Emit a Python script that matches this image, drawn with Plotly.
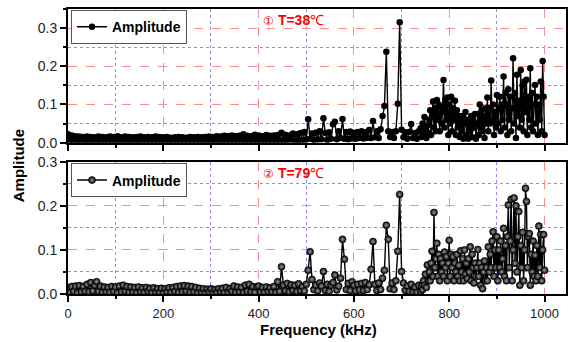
import plotly.graph_objects as go

# Frequency sampling grid (kHz): 4 kHz steps up to 736 kHz, 2 kHz steps from 740 to 1000 kHz
freq = list(range(0, 740, 4)) + list(range(740, 1001, 2))

# Amplitude spectrum at T=38 C
amp_38 = [
    # 0 - 736 kHz (4 kHz steps)
    0.022, 0.006, 0.019, 0.004, 0.017, 0.007, 0.016, 0.003, 0.015, 0.006,
    0.016, 0.004, 0.015, 0.007, 0.014, 0.003, 0.016, 0.005, 0.015, 0.006,
    0.014, 0.004, 0.016, 0.006, 0.015, 0.003, 0.017, 0.005, 0.014, 0.006,
    0.016, 0.004, 0.015, 0.006, 0.014, 0.003, 0.015, 0.005, 0.016, 0.004,
    0.014, 0.006, 0.015, 0.003, 0.014, 0.005, 0.016, 0.004, 0.015, 0.006,
    0.014, 0.003, 0.015, 0.005, 0.013, 0.004, 0.014, 0.006, 0.015, 0.003,
    0.014, 0.005, 0.013, 0.004, 0.015, 0.006, 0.014, 0.003, 0.015, 0.005,
    0.014, 0.004, 0.015, 0.006, 0.016, 0.003, 0.015, 0.005, 0.017, 0.004,
    0.016, 0.006, 0.018, 0.004, 0.017, 0.005, 0.019, 0.003, 0.017, 0.006,
    0.018, 0.004, 0.022, 0.006, 0.018, 0.005, 0.017, 0.004, 0.021, 0.006,
    0.019, 0.004, 0.017, 0.006, 0.020, 0.005, 0.018, 0.004, 0.019, 0.006,
    0.020, 0.005, 0.026, 0.007, 0.021, 0.006, 0.019, 0.008, 0.024, 0.005,
    0.022, 0.007, 0.025, 0.006, 0.028, 0.008, 0.061, 0.010, 0.024, 0.007,
    0.026, 0.008, 0.030, 0.009, 0.064, 0.025, 0.007, 0.027, 0.010, 0.048,
    0.055, 0.009, 0.030, 0.012, 0.062, 0.010, 0.028, 0.009, 0.029, 0.011,
    0.026, 0.010, 0.028, 0.012, 0.030, 0.011, 0.027, 0.013, 0.033, 0.012,
    0.057, 0.014, 0.030, 0.012, 0.035, 0.070, 0.096, 0.238, 0.030, 0.015,
    0.028, 0.012, 0.030, 0.102, 0.315, 0.034, 0.014, 0.027, 0.010, 0.028,
    0.049, 0.012, 0.025, 0.010, 0.030,
    # 740 - 1000 kHz (2 kHz steps)
    0.038, 0.015, 0.050, 0.020, 0.067, 0.030, 0.012, 0.045, 0.025, 0.060,
    0.085, 0.020, 0.070, 0.108, 0.040, 0.090, 0.030, 0.112, 0.060, 0.100,
    0.030, 0.095, 0.050, 0.080, 0.164, 0.040, 0.110, 0.060, 0.118, 0.020,
    0.100, 0.050, 0.120, 0.030, 0.090, 0.060, 0.110, 0.020, 0.085, 0.040,
    0.070, 0.015, 0.060, 0.030, 0.070, 0.010, 0.050, 0.080, 0.020, 0.060,
    0.010, 0.055, 0.030, 0.070, 0.015, 0.060, 0.040, 0.075, 0.010, 0.050,
    0.075, 0.020, 0.100, 0.040, 0.085, 0.030, 0.070, 0.012, 0.090, 0.050,
    0.118, 0.030, 0.090, 0.050, 0.163, 0.060, 0.100, 0.020, 0.080, 0.040,
    0.125, 0.050, 0.090, 0.120, 0.030, 0.100, 0.060, 0.173, 0.040, 0.130,
    0.100, 0.020, 0.140, 0.060, 0.120, 0.030, 0.090, 0.221, 0.050, 0.130,
    0.012, 0.178, 0.070, 0.110, 0.040, 0.190, 0.060, 0.150, 0.030, 0.160,
    0.080, 0.165, 0.020, 0.120, 0.060, 0.195, 0.040, 0.130, 0.030, 0.100,
    0.151, 0.050, 0.120, 0.020, 0.100, 0.060, 0.160, 0.030, 0.214, 0.120,
    0.020,
]

# Amplitude spectrum at T=79 C
amp_79 = [
    # 0 - 736 kHz (4 kHz steps)
    0.015, 0.004, 0.017, 0.006, 0.018, 0.003, 0.019, 0.005, 0.017, 0.006,
    0.022, 0.005, 0.026, 0.007, 0.020, 0.028, 0.006, 0.018, 0.004, 0.016,
    0.005, 0.015, 0.004, 0.017, 0.006, 0.016, 0.003, 0.018, 0.005, 0.020,
    0.006, 0.017, 0.004, 0.016, 0.005, 0.015, 0.003, 0.016, 0.005, 0.014,
    0.004, 0.015, 0.006, 0.013, 0.003, 0.014, 0.005, 0.012, 0.004, 0.013,
    0.003, 0.012, 0.005, 0.014, 0.004, 0.015, 0.006, 0.017, 0.004, 0.018,
    0.005, 0.019, 0.006, 0.018, 0.004, 0.017, 0.005, 0.015, 0.003, 0.013,
    0.004, 0.012, 0.003, 0.011, 0.005, 0.012, 0.003, 0.010, 0.004, 0.012,
    0.005, 0.013, 0.003, 0.015, 0.004, 0.012, 0.006, 0.018, 0.004, 0.016,
    0.005, 0.015, 0.004, 0.020, 0.006, 0.022, 0.005, 0.017, 0.004, 0.016,
    0.018, 0.005, 0.015, 0.004, 0.016, 0.006, 0.014, 0.005, 0.017, 0.004,
    0.028, 0.006, 0.062, 0.020, 0.007, 0.024, 0.005, 0.021, 0.008, 0.020,
    0.006, 0.023, 0.008, 0.017, 0.007, 0.022, 0.054, 0.096, 0.033, 0.010,
    0.020, 0.007, 0.025, 0.018, 0.051, 0.008, 0.022, 0.006, 0.020, 0.026,
    0.043, 0.009, 0.018, 0.036, 0.124, 0.079, 0.010, 0.024, 0.008, 0.028,
    0.020, 0.007, 0.022, 0.009, 0.024, 0.008, 0.026, 0.010, 0.021, 0.056,
    0.119, 0.022, 0.008, 0.025, 0.010, 0.036, 0.054, 0.156, 0.124, 0.012,
    0.025, 0.010, 0.030, 0.097, 0.226, 0.051, 0.025, 0.008, 0.018, 0.006,
    0.022, 0.005, 0.015, 0.004, 0.020,
    # 740 - 1000 kHz (2 kHz steps)
    0.006, 0.018, 0.010, 0.030, 0.020, 0.045, 0.015, 0.066, 0.030, 0.050,
    0.030, 0.070, 0.097, 0.040, 0.185, 0.060, 0.080, 0.115, 0.040, 0.090,
    0.030, 0.080, 0.050, 0.070, 0.040, 0.095, 0.060, 0.085, 0.030, 0.070,
    0.122, 0.040, 0.090, 0.060, 0.085, 0.030, 0.070, 0.050, 0.090, 0.040,
    0.065, 0.030, 0.098, 0.050, 0.080, 0.030, 0.100, 0.045, 0.070, 0.035,
    0.080, 0.050, 0.107, 0.030, 0.090, 0.060, 0.025, 0.070, 0.040, 0.060,
    0.101, 0.040, 0.070, 0.020, 0.060, 0.012, 0.050, 0.075, 0.030, 0.060,
    0.030, 0.107, 0.050, 0.090, 0.060, 0.120, 0.141, 0.040, 0.100, 0.060,
    0.130, 0.030, 0.100, 0.060, 0.120, 0.050, 0.080, 0.149, 0.040, 0.110,
    0.030, 0.130, 0.202, 0.060, 0.120, 0.215, 0.030, 0.100, 0.218, 0.070,
    0.200, 0.050, 0.130, 0.187, 0.020, 0.110, 0.060, 0.140, 0.030, 0.100,
    0.240, 0.210, 0.060, 0.130, 0.137, 0.020, 0.090, 0.050, 0.120, 0.040,
    0.088, 0.030, 0.110, 0.040, 0.154, 0.060, 0.135, 0.030, 0.100, 0.135,
    0.054,
]

legend_name = "Amplitude"
label_38 = "<span style='font-size:12px'>①</span> <b>T=38</b>℃"
label_79 = "<span style='font-size:12px'>②</span> <b>T=79</b>℃"

FONT = "Liberation Sans, Arial, sans-serif"
major_grid = "#ff8c8c"
minor_grid = "#8c8cff"

fig = go.Figure()
fig.add_trace(go.Scatter(
    x=freq, y=amp_38, mode="lines+markers", name=legend_name,
    line=dict(color="black", width=1.4),
    marker=dict(size=6.5, color="black"),
    xaxis="x", yaxis="y", legend="legend",
))
fig.add_trace(go.Scatter(
    x=freq, y=amp_79, mode="lines+markers", name=legend_name,
    line=dict(color="black", width=1.4),
    marker=dict(size=7, color="black",
                gradient=dict(type="radial", color="#9a9a9a"),
                line=dict(color="black", width=0.6)),
    xaxis="x2", yaxis="y2", legend="legend2",
))


def xaxis_cfg(anchor, labels):
    return dict(
        anchor=anchor, domain=[0, 1], range=[0, 1045],
        tick0=0, dtick=200, ticks="outside", ticklen=6, tickwidth=1.5,
        tickcolor="black", showticklabels=labels,
        tickfont=dict(family=FONT, size=13, color="#222"),
        showgrid=True, gridcolor=major_grid, griddash="dash", gridwidth=1,
        minor=dict(dtick=100, ticks="outside", ticklen=3, tickwidth=1.5,
                   tickcolor="black", showgrid=True, gridcolor=minor_grid,
                   griddash="dot", gridwidth=1),
        showline=True, linewidth=2, linecolor="black", mirror=True,
        zeroline=False,
    )


def yaxis_cfg(domain, anchor, top):
    return dict(
        anchor=anchor, domain=domain, range=[0, top],
        tick0=0, dtick=0.1, tickformat=".1f",
        ticks="outside", ticklen=6, tickwidth=1.5, tickcolor="black",
        tickfont=dict(family=FONT, size=14, color="#222"),
        showgrid=True, gridcolor=major_grid, griddash="dash", gridwidth=1,
        minor=dict(dtick=0.05, ticks="outside", ticklen=3, tickwidth=1.5,
                   tickcolor="black", showgrid=True, gridcolor=minor_grid,
                   griddash="dot", gridwidth=1),
        showline=True, linewidth=2, linecolor="black", mirror=True,
        zeroline=False,
    )


legend_style = dict(
    xanchor="left", yanchor="top", bgcolor="white",
    bordercolor="#555", borderwidth=1,
    font=dict(family=FONT, size=14, color="black", weight="bold"),
    tracegroupgap=0, itemwidth=30,
)

fig.update_layout(
    width=568, height=342,
    margin=dict(l=68, r=0, t=9, b=48),
    paper_bgcolor="white", plot_bgcolor="white",
    showlegend=True,
    xaxis=xaxis_cfg("y", False),
    yaxis=yaxis_cfg([0.531, 1.0], "x", 0.35),
    xaxis2=xaxis_cfg("y2", True),
    yaxis2=yaxis_cfg([0.0, 0.464], "x2", 0.3),
    legend=dict(x=0.006, y=0.996, **legend_style),
    legend2=dict(x=0.006, y=0.458, **legend_style),
    annotations=[
        dict(text=label_38, x=0.388, y=0.961, xref="paper", yref="paper",
             xanchor="left", yanchor="middle", showarrow=False,
             font=dict(family=FONT, size=14, color="red")),
        dict(text=label_79, x=0.388, y=0.4246, xref="paper", yref="paper",
             xanchor="left", yanchor="middle", showarrow=False,
             font=dict(family=FONT, size=14, color="red")),
        dict(text="<b>Amplitude</b>", x=-0.1, y=0.449, xref="paper",
             yref="paper", textangle=-90, showarrow=False,
             xanchor="center", yanchor="middle",
             font=dict(family=FONT, size=15, color="black")),
        dict(text="<b>Frequency (kHz)</b>", x=0.504, y=-0.126, xref="paper",
             yref="paper", showarrow=False, xanchor="center",
             yanchor="middle",
             font=dict(family=FONT, size=15, color="black")),
    ],
)

fig.write_html("out.html")
